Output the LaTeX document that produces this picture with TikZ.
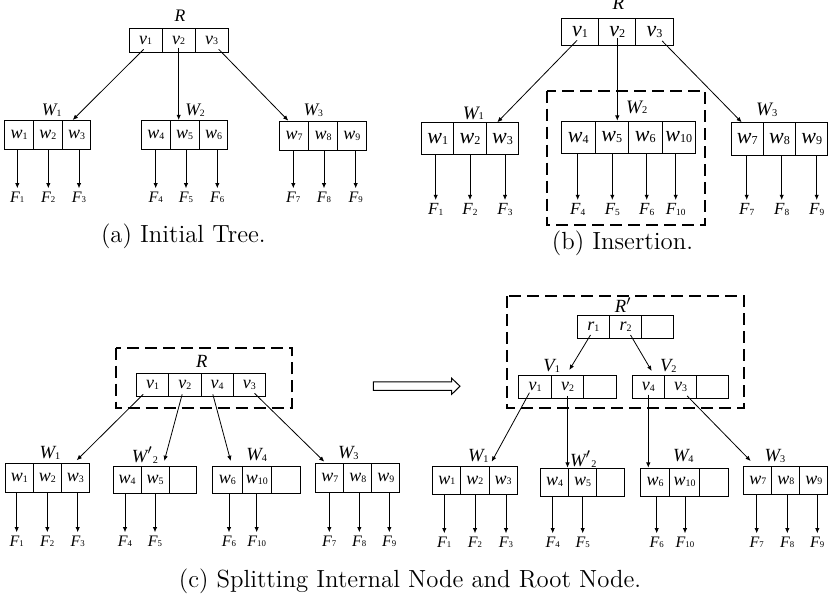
\documentclass[tikz,border=0pt]{standalone}
\usepackage{fontspec}
\newfontfamily\tms{Liberation Serif}
\usetikzlibrary{arrows.meta,calc}

% small upright index set on the baseline
\newcommand\dg[1]{\raisebox{-0.1ex}{\scalebox{0.55}{\upshape #1}}}
\newcommand\nm[2]{#1\dg{#2}}

% a row of equal cells: name, left x, top y, cell width, cell height, contents
\newcommand\cellrow[6]{%
  \foreach \t [count=\i] in {#6} {
    \node[cell, minimum width={#4*0.5pt}, minimum height={#5*0.5pt}] (#1-\i) at ({#2+(\i-1)*#4},#3) {\t};
  }}

\begin{document}
\begin{tikzpicture}[x=0.5pt,y=-0.5pt,
  cell/.style={draw, line width=0.5pt, inner sep=0, anchor=north west, cellfont},
  lab/.style={inner sep=0, labfont},
  flab/.style={anchor=north, inner xsep=0, inner ysep=1.5pt, ffont},
  arr/.style={line width=0.4pt, -{Latex[length=2.6pt,width=2.2pt]}},
  dbox/.style={line width=1pt, dash pattern=on 6pt off 3pt},
  captext/.style={inner sep=0, font=\fontsize{12.4}{14}\selectfont},
  cellfont/.style={font=\tms\itshape\fontsize{9}{9}\selectfont},
  labfont/.style={font=\tms\itshape\fontsize{8.8}{8.8}\selectfont},
  ffont/.style={font=\tms\itshape\fontsize{8}{8}\selectfont}]
\useasboundingbox (0,0) rectangle (830,598);

% ---------------- (a) initial tree
\begin{scope}
  \cellrow{aR}{128.7}{28}{33}{23.7}{\nm{v}{1},\nm{v}{2},\nm{v}{3}}
  \node[lab] (aRl) at (180,16) {R};
  \cellrow{aW1}{4.3}{120}{28.7}{29}{\nm{w}{1},\nm{w}{2},\nm{w}{3}}
  \cellrow{aW2}{141}{120}{28.8}{29}{\nm{w}{4},\nm{w}{5},\nm{w}{6}}
  \cellrow{aW3}{279.3}{120.7}{28.8}{29.3}{\nm{w}{7},\nm{w}{8},\nm{w}{9}}
  \node[lab] (aW1l) at (51.7,110) {\nm{W}{1}};
  \node[lab] (aW2l) at (195,110) {\nm{W}{2}};
  \node[lab] (aW3l) at (313.3,110) {\nm{W}{3}};
  \draw[arr] ([shift={(-2,-3.4)}]aR-1.south) -- ([shift={(11,0)}]aW1-3.north west);
  \draw[arr] ([shift={(0,-5)}]aR-2.south) -- (aR-2.south |- aW2-2.north);
  \draw[arr] ([shift={(7,-3.4)}]aR-3.south) -- ([shift={(9,0)}]aW3-1.north west);
  \foreach \k/\xx/\c in {1/17.3/aW1-1,2/48.3/aW1-2,3/79/aW1-3,
                         4/155.7/aW2-1,5/186/aW2-2,6/217.3/aW2-3,
                         7/293.3/aW3-1,8/324/aW3-2,9/355.7/aW3-3} {
    \node[flab] (aF\k) at (\xx,188.3) {\nm{F}{\k}};
    \draw[arr] (aF\k.north |- \c.south) -- (aF\k.north);
  }
  \node[captext] (capa) at (183.3,236.7) {(a) Initial Tree.};
\end{scope}

% ---------------- (b) insertion
\begin{scope}[cellfont/.style={font=\tms\itshape\fontsize{11}{11}\selectfont},
  labfont/.style={font=\tms\itshape\fontsize{9.5}{9.5}\selectfont},
  ffont/.style={font=\tms\itshape\fontsize{8.5}{8.5}\selectfont}]
  \cellrow{bR}{561}{18.3}{37.2}{26.7}{\nm{v}{1},\nm{v}{2},\nm{v}{3}}
  \node[lab] (bRl) at (618.3,3) {R};
  \draw[dbox] (546.7,90.7) rectangle (705,225);
  \cellrow{bW1}{421}{122.3}{32.4}{32}{\nm{w}{1},\nm{w}{2},\nm{w}{3}}
  \cellrow{bW2}{561}{120.7}{33.5}{32.6}{\nm{w}{4},\nm{w}{5},\nm{w}{6},\nm{w}{10}}
  \cellrow{bW3}{730.7}{122.3}{32.2}{32.7}{\nm{w}{7},\nm{w}{8},\nm{w}{9}}
  \node[lab] (bW1l) at (473.3,113.3) {\nm{W}{1}};
  \node[lab] (bW2l) at (636.7,107.3) {\nm{W}{2}};
  \node[lab] (bW3l) at (766.7,110) {\nm{W}{3}};
  \draw[arr] ([shift={(-3,-5.7)}]bR-1.south) -- ([shift={(11.5,0)}]bW1-3.north west);
  \draw[arr] ([shift={(0,-8)}]bR-2.south) -- (bR-2.south |- bW2-2.north);
  \draw[arr] ([shift={(7.7,-5)}]bR-3.south) -- ([shift={(11,0)}]bW3-1.north west);
  \foreach \k/\xx/\c in {1/435.7/bW1-1,2/470/bW1-2,3/505/bW1-3,
                         4/577.7/bW2-1,5/612.3/bW2-2,6/646.7/bW2-3,10/675.7/bW2-4,
                         7/746.7/bW3-1,8/781.7/bW3-2,9/816.7/bW3-3} {
    \node[flab] (bF\k) at (\xx,200) {\nm{F}{\k}};
    \draw[arr] (bF\k.north |- \c.south) -- (bF\k.north);
  }
  \node[captext] (capb) at (622.5,243.3) {(b) Insertion.};
\end{scope}

% ---------------- (c) splitting, before
\begin{scope}[cellfont/.style={font=\tms\itshape\fontsize{9}{9}\selectfont},
  labfont/.style={font=\tms\itshape\fontsize{9.3}{9.3}\selectfont},
  ffont/.style={font=\tms\itshape\fontsize{8}{8}\selectfont}]
  \draw[dbox] (115.7,347.7) rectangle (292.3,407.7);
  \node[lab] (cRl) at (201.7,361) {R};
  \cellrow{cR}{136}{372.7}{32.25}{23.3}{\nm{v}{1},\nm{v}{2},\nm{v}{4},\nm{v}{3}}
  \cellrow{cW1}{4.7}{463.3}{28.1}{28.4}{\nm{w}{1},\nm{w}{2},\nm{w}{3}}
  \cellrow{cW2}{112.7}{465.7}{27.9}{27.6}{\nm{w}{4},\nm{w}{5},{}}
  \cellrow{cW4}{212.3}{465.7}{29.3}{27.6}{\nm{w}{6},\nm{w}{10},{}}
  \cellrow{cW3}{315.3}{463.3}{28}{28.4}{\nm{w}{7},\nm{w}{8},\nm{w}{9}}
  \node[lab] (cW1l) at (50,453.3) {\nm{W}{1}};
  \node[lab] (cW2l) at (145,455) {W$'$\dg{2}};
  \node[lab] (cW4l) at (256.7,455) {\nm{W}{4}};
  \node[lab] (cW3l) at (348.3,453) {\nm{W}{3}};
  \draw[arr] ([shift={(-9.4,-2.7)}]cR-1.south) -- ([shift={(15.8,-3)}]cW1-3.north west);
  \draw[arr] ([shift={(-2.7,-2.7)}]cR-2.south) -- ([shift={(23.7,-4.7)}]cW2-2.north west);
  \draw[arr] ([shift={(-4.3,-2.7)}]cR-3.south) -- ([shift={(18.4,-4.7)}]cW4-1.north west);
  \draw[arr] ([shift={(5.1,-3.7)}]cR-4.south) -- ([shift={(9,-1.6)}]cW3-1.north west);
  \foreach \k/\xx/\c in {1/16.7/cW1-1,2/47.3/cW1-2,3/77.7/cW1-3,
                         4/125/cW2-1,5/155/cW2-2,
                         6/229/cW4-1,10/256.7/cW4-2,
                         7/329.3/cW3-1,8/359.3/cW3-2,9/389.3/cW3-3} {
    \node[flab] (cF\k) at (\xx,532.3) {\nm{F}{\k}};
    \draw[arr] (cF\k.north |- \c.south) -- (cF\k.north);
  }
\end{scope}

% hollow arrow between the two states
\draw[line width=0.5pt, fill=white] (373.3,382) -- (451.7,382) -- (451.7,378.3)
  -- (460,386.2) -- (451.7,394.3) -- (451.7,390.3) -- (373.3,390.3) -- cycle;

% ---------------- (c) splitting, after
\begin{scope}[cellfont/.style={font=\tms\itshape\fontsize{9}{9}\selectfont},
  labfont/.style={font=\tms\itshape\fontsize{9.3}{9.3}\selectfont},
  ffont/.style={font=\tms\itshape\fontsize{8}{8}\selectfont}]
  \draw[dbox] (506.7,296) rectangle (744,407.7);
  \node[lab] (dRl) at (623.3,305) {R$'$};
  \cellrow{dR}{576.7}{315}{32.2}{23.3}{\nm{r}{1},\nm{r}{2},{}}
  \cellrow{dV1}{518.3}{375}{32.5}{22.7}{\nm{v}{1},\nm{v}{2},{}}
  \cellrow{dV2}{631.7}{375}{32.2}{22.7}{\nm{v}{4},\nm{v}{3},{}}
  \node[lab] (dV1l) at (551.7,366) {\nm{V}{1}};
  \node[lab] (dV2l) at (668.3,366) {\nm{V}{2}};
  \cellrow{dW1}{432.3}{465.7}{28.1}{28.3}{\nm{w}{1},\nm{w}{2},\nm{w}{3}}
  \cellrow{dW2}{540}{467.7}{28}{28}{\nm{w}{4},\nm{w}{5},{}}
  \cellrow{dW4}{640}{467.7}{29.4}{28}{\nm{w}{6},\nm{w}{10},{}}
  \cellrow{dW3}{743.3}{465.7}{28}{28.3}{\nm{w}{7},\nm{w}{8},\nm{w}{9}}
  \node[lab] (dW1l) at (478.3,456) {\nm{W}{1}};
  \node[lab] (dW2l) at (583.3,459.3) {W$'$\dg{2}};
  \node[lab] (dW4l) at (683.3,456) {\nm{W}{4}};
  \node[lab] (dW3l) at (775,456) {\nm{W}{3}};
  \draw[arr] ([shift={(-2.8,-4.3)}]dR-1.south) -- ([shift={(18.5,-5)}]dV1-2.north west);
  \draw[arr] ([shift={(5,-4.3)}]dR-2.south) -- ([shift={(20,-4)}]dV2-1.north west);
  \draw[arr] ([shift={(-5.6,-6)}]dV1-1.south) -- ([shift={(3.2,-4)}]dW1-3.north west);
  \draw[arr] ([shift={(0,-2.7)}]dV1-2.south) -- (dV1-2.south |- dW2-1.north);
  \draw[arr] ([shift={(0,-4)}]dV2-1.south) -- (dV2-1.south |- dW4-1.north);
  \draw[arr] ([shift={(6.7,-2.7)}]dV2-2.south) -- ([shift={(7.4,-4.7)}]dW3-1.north west);
  \foreach \k/\xx/\c in {1/444.3/dW1-1,2/475/dW1-2,3/506/dW1-3,
                         4/552.7/dW2-1,5/582.7/dW2-2,
                         6/656.7/dW4-1,10/685/dW4-2,
                         7/756.7/dW3-1,8/787.3/dW3-2,9/817.3/dW3-3} {
    \node[flab] (dF\k) at (\xx,533.3) {\nm{F}{\k}};
    \draw[arr] (dF\k.north |- \c.south) -- (dF\k.north);
  }
\end{scope}

\node[captext] (capc) at (410,581.7) {(c) Splitting Internal Node and Root Node.};
\end{tikzpicture}
\end{document}
